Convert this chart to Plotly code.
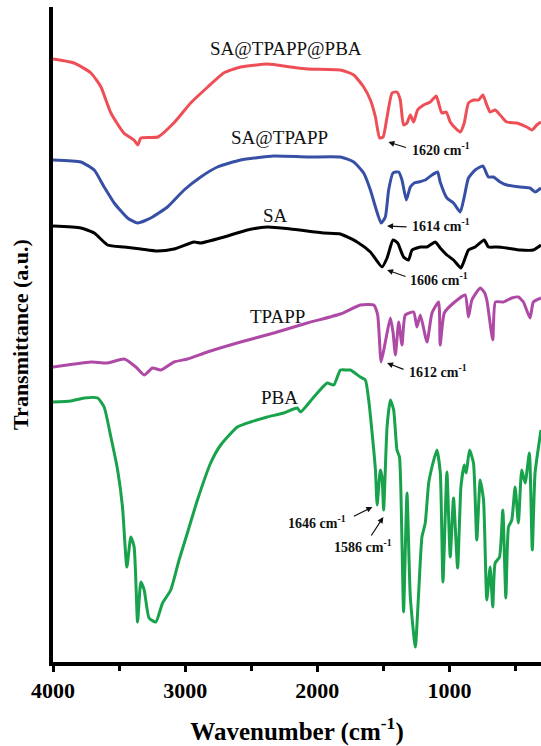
import plotly.graph_objects as go

# ---------------- data ----------------
wn_sa_tpapp_pba = [4000, 3841, 3713, 3637, 3562, 3464, 3388, 3358, 3335, 3207, 3086, 2958, 2829, 2708, 2580,
                   2376, 2202, 2074, 1825, 1724, 1649, 1598, 1560, 1528, 1502, 1472, 1434, 1397, 1372, 1347,
                   1321, 1296, 1271, 1241, 1196, 1145, 1100, 1082, 1057, 1024, 994, 956, 918, 888, 856,
                   818, 780, 747, 717, 692, 654, 603, 566, 490, 415, 377, 339, 307]
t_sa_tpapp_pba = [603, 599, 589, 575, 549, 529, 522, 517, 524, 525, 539, 559, 575, 589, 595,
                  598, 595, 593, 592, 587, 575, 562, 545, 524, 525, 545, 569, 570, 562, 537,
                  539, 547, 540, 552, 557, 560, 566, 559, 549, 550, 540, 534, 530, 539, 559,
                  562, 562, 567, 557, 550, 552, 545, 540, 539, 535, 532, 537, 540]

wn_sa_tpapp = [4000, 3789, 3688, 3613, 3537, 3436, 3360, 3260, 3134, 3008, 2882, 2756, 2580, 2329, 2076, 1825,
               1724, 1649, 1598, 1560, 1517, 1485, 1460, 1427, 1384, 1359, 1326, 1296, 1266, 1233, 1183,
               1132, 1090, 1070, 1019, 969, 918, 888, 856, 805, 747, 705, 667, 616, 566, 465, 390, 352, 307]
t_sa_tpapp = [502, 500, 492, 475, 459, 444, 439, 444, 455, 472, 485, 495, 502, 506, 505, 505,
              500, 489, 472, 455, 439, 445, 472, 489, 490, 482, 462, 475, 479, 480, 482,
              487, 490, 480, 464, 459, 450, 465, 484, 492, 496, 485, 485, 480, 477, 475, 474, 470, 474]

wn_sa = [4000, 3789, 3688, 3587, 3461, 3335, 3209, 3084, 2933, 2882, 2706, 2529, 2378, 2202, 1951,
         1825, 1699, 1598, 1510, 1472, 1427, 1392, 1347, 1309, 1283, 1220, 1170, 1107, 1070, 1019,
         969, 913, 881, 856, 805, 737, 705, 641, 566, 465, 365, 327, 307]
t_sa = [436, 434, 429, 417, 415, 413, 411, 413, 420, 419, 425, 432, 435, 433, 429,
        428, 420, 410, 395, 404, 422, 419, 405, 402, 412, 415, 415, 420, 414, 407,
        402, 394, 404, 412, 415, 422, 415, 415, 414, 412, 412, 415, 417]

wn_tpapp = [4000, 3839, 3713, 3587, 3461, 3373, 3310, 3247, 3184, 3084, 2983, 2832, 2580, 2329, 2076,
            1825, 1674, 1573, 1543, 1517, 1485, 1447, 1427, 1409, 1384, 1359, 1334, 1271, 1246, 1220,
            1170, 1132, 1082, 1070, 1039, 969, 881, 856, 830, 767, 737, 717, 672, 652, 591,
            528, 478, 440, 390, 365, 307]
t_tpapp = [295, 298, 300, 299, 303, 295, 287, 294, 292, 300, 303, 310, 320, 329, 339,
           348, 357, 357, 347, 300, 320, 344, 330, 307, 340, 317, 347, 350, 335, 347,
           320, 349, 360, 317, 349, 359, 367, 345, 362, 374, 370, 362, 322, 360, 360,
           364, 365, 360, 344, 360, 364]

wn_pba = [4000, 3864, 3764, 3662, 3613, 3562, 3511, 3474, 3441, 3411, 3386, 3360, 3335, 3310, 3273,
          3222, 3171, 3109, 3046, 2983, 2907, 2807, 2731, 2605, 2505, 2378, 2253, 2152, 2127, 2026,
          1925, 1875, 1825, 1774, 1749, 1674, 1636, 1611, 1585, 1560, 1547, 1523, 1510, 1498, 1472,
          1447, 1422, 1397, 1378, 1359, 1347, 1321, 1296, 1258, 1233, 1208, 1183, 1157, 1132, 1095,
          1069, 1049, 1019, 994, 969, 938, 913, 888, 873, 848, 818, 793, 767, 742, 717,
          692, 672, 654, 621, 596, 573, 553, 528, 503, 478, 453, 427, 395, 373, 352, 307]
t_pba = [260, 261, 264, 264, 255, 225, 192, 155, 95, 125, 115, 40, 80, 72, 44,
         40, 59, 72, 102, 129, 162, 199, 217, 235, 240, 245, 249, 254, 250, 265,
         279, 277, 292, 292, 292, 285, 282, 262, 229, 192, 157, 192, 185, 152, 235,
         262, 252, 212, 205, 119, 50, 169, 65, 15, 69, 125, 139, 179, 195, 212,
         189, 80, 190, 105, 164, 94, 175, 197, 189, 212, 199, 122, 182, 162, 62,
         95, 55, 99, 105, 152, 64, 135, 142, 175, 139, 192, 179, 209, 112, 189, 232]

series_names = ["SA@TPAPP@PBA", "SA@TPAPP", "SA", "TPAPP", "PBA"]
series_wn = [wn_sa_tpapp_pba, wn_sa_tpapp, wn_sa, wn_tpapp, wn_pba]
series_t = [t_sa_tpapp_pba, t_sa_tpapp, t_sa, t_tpapp, t_pba]
series_colors = ["#EE4F57", "#3750A5", "#000000", "#AE4AA5", "#18A24C"]

# label positions (wavenumber, a.u.)
label_x = [2240, 2285, 2316, 2301, 2285]
label_y = [614, 525, 447, 346, 265]

# peak annotations: text, arrow head (wn, a.u.), text anchor (wn, a.u.)
peak_text = ["1620", "1614", "1606", "1612", "1646", "1586"]
peak_head_x = [1462, 1472, 1472, 1472, 1583, 1500]
peak_head_y = [520, 436, 392, 299, 155, 145]
peak_text_x = [1296, 1296, 1311, 1319, 2240, 1885]
peak_text_y = [513, 437, 383, 291, 140, 116]
peak_arrow_dx = [19, 21, 20, 18, -20, -13]
peak_arrow_dy = [6, 1, 7, 7, 10, 20]

x_tickvals = [4000, 3000, 2000, 1000]

# ---------------- figure ----------------
fig = go.Figure()
for name, xs, ys, col in zip(series_names, series_wn, series_t, series_colors):
    assert len(xs) == len(ys), name
    fig.add_trace(go.Scatter(x=xs, y=ys, mode="lines", name=name,
                             line=dict(color=col, width=3, shape="spline", smoothing=0.5),
                             showlegend=False))

serif = "Liberation Serif"
for name, lx, ly in zip(series_names, label_x, label_y):
    fig.add_annotation(x=lx, y=ly, text=name, showarrow=False,
                       font=dict(family=serif, size=19, color="#111"),
                       xanchor="center", yanchor="middle")

for txt, hx, hy, tx, ty, dx, dy in zip(peak_text, peak_head_x, peak_head_y,
                                       peak_text_x, peak_text_y, peak_arrow_dx, peak_arrow_dy):
    fig.add_annotation(x=hx, y=hy, text="", showarrow=True, ax=dx, ay=dy,
                       arrowhead=2, arrowsize=1, arrowwidth=1.2, arrowcolor="#111")
    fig.add_annotation(x=tx, y=ty, text="<b>" + txt + " cm<sup>-1</sup></b>", showarrow=False,
                       font=dict(family=serif, size=14, color="#111"),
                       xanchor="left", yanchor="middle")

fig.update_layout(
    width=541, height=746,
    margin=dict(l=53, r=0, t=7, b=84),
    paper_bgcolor="white", plot_bgcolor="white",
    showlegend=False,
)
fig.update_xaxes(
    range=[4000, 307], showgrid=False, zeroline=False,
    showline=True, linewidth=3.5, linecolor="black",
    tickvals=x_tickvals, ticktext=[str(v) for v in x_tickvals],
    ticks="outside", ticklen=6, tickwidth=3, tickcolor="black",
    minor=dict(dtick=500, tick0=0, ticks="outside", ticklen=5, tickwidth=3, tickcolor="black"),
    tickfont=dict(family=serif, size=22, color="black", weight="bold"),
    title=dict(text="<b>Wavenumber (cm<sup>-1</sup>)</b>", font=dict(family=serif, size=25, color="black"),
               standoff=22),
    automargin=False,
)
fig.update_yaxes(
    range=[0, 655], showgrid=False, zeroline=False,
    showline=True, linewidth=3.5, linecolor="black",
    showticklabels=False, ticks="",
    title=dict(text="<b>Transmittance (a.u.)</b>", font=dict(family=serif, size=22, color="black"),
               standoff=16),
    automargin=False,
)

fig.write_html("out.html", config={"displayModeBar": False},
               post_script="document.body.style.margin='0';document.body.style.overflow='hidden';")
